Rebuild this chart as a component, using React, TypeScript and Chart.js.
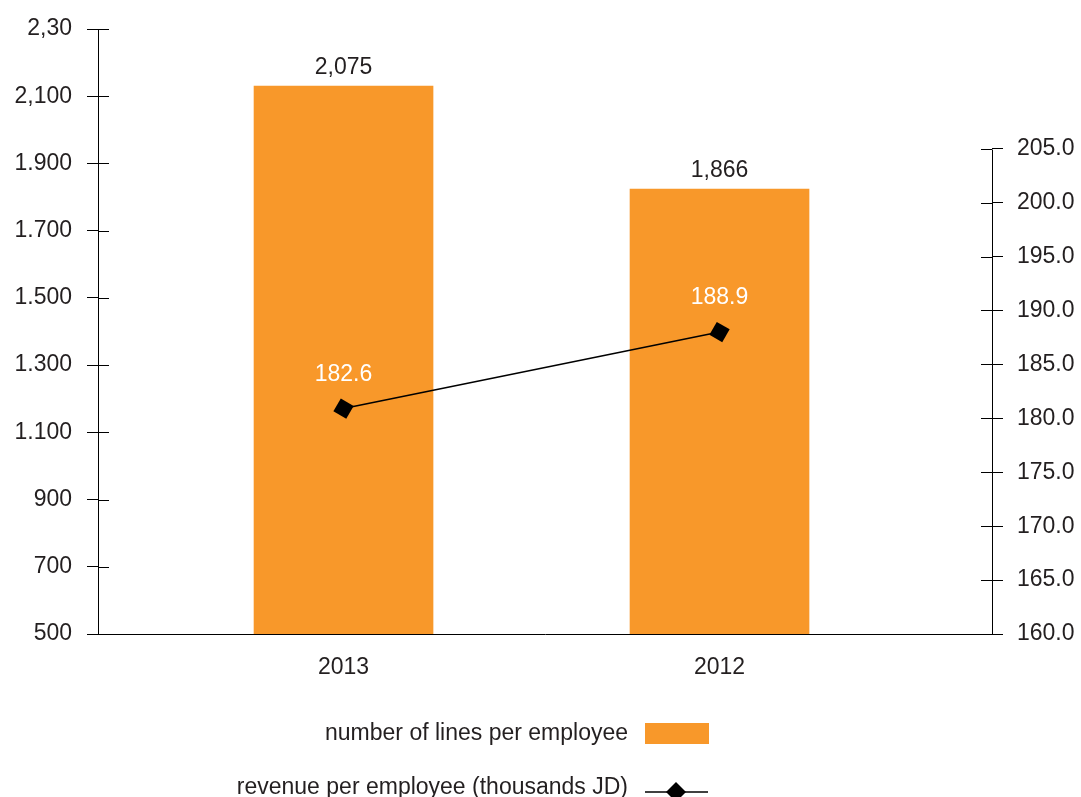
import { useEffect, useRef } from 'react';
import { Chart, registerables } from 'chart.js';

Chart.register(...registerables);

const categories = ['2013', '2012'];
const linesPerEmployee = [2130, 1824];
const linesLabels = ['2,075', '1,866'];
const revenuePerEmployee = [180.9, 188.0];
const revenueLabels = ['182.6', '188.9'];
const leftTickValues = [500, 700, 900, 1100, 1300, 1500, 1700, 1900, 2100, 2300];
const leftTickLabels = ['500', '700', '900', '1.100', '1.300', '1.500', '1.700', '1.900', '2,100', '2,30'];
const rightTickValues = [160, 165, 170, 175, 180, 185, 190, 195, 200, 205];
const rightTickLabels = ['160.0', '165.0', '170.0', '175.0', '180.0', '185.0', '190.0', '195.0', '200.0', '205.0'];
const seriesNames = ['number of lines per employee', 'revenue per employee (thousands JD)'];

const ORANGE = '#F8982A';
const TEXT = '#231F20';
const FONT_FAMILY = '"Liberation Sans", Arial, sans-serif';
const FONT = { family: FONT_FAMILY, size: 23 };

const overlayPlugin = {
  id: 'overlay',
  afterDatasetsDraw(chart: any) {
    const { ctx, chartArea } = chart;
    const y = chart.scales.y;
    const y1 = chart.scales.y1;
    ctx.save();
    ctx.strokeStyle = '#000';
    ctx.lineWidth = 1;
    y.ticks.forEach((t: any) => {
      const py = Math.round(y.getPixelForValue(t.value)) + 0.5;
      ctx.beginPath();
      ctx.moveTo(chartArea.left, py);
      ctx.lineTo(chartArea.left + 11, py);
      ctx.stroke();
    });
    const topPx = y1.getPixelForValue(rightTickValues[rightTickValues.length - 1]);
    const rx = Math.round(chartArea.right) + 0.5;
    ctx.beginPath();
    ctx.moveTo(rx, Math.round(topPx) + 0.5);
    ctx.lineTo(rx, chartArea.bottom);
    ctx.stroke();
    y1.ticks.forEach((t: any) => {
      const py = Math.round(y1.getPixelForValue(t.value)) + 0.5;
      ctx.beginPath();
      ctx.moveTo(chartArea.right - 11, py);
      ctx.lineTo(chartArea.right, py);
      ctx.stroke();
    });

    ctx.font = `23px ${FONT_FAMILY}`;
    ctx.textAlign = 'center';
    ctx.textBaseline = 'middle';
    const barMeta = chart.getDatasetMeta(0);
    barMeta.data.forEach((el: any, i: number) => {
      ctx.fillStyle = TEXT;
      ctx.fillText(linesLabels[i], el.x, el.y - 18);
    });
    const lineMeta = chart.getDatasetMeta(1);
    lineMeta.data.forEach((el: any, i: number) => {
      ctx.fillStyle = '#FFFFFF';
      ctx.fillText(revenueLabels[i], el.x, el.y - 34);
    });
    ctx.restore();
  },
  afterDraw(chart: any) {
    const { ctx } = chart;
    ctx.save();
    ctx.font = `23px ${FONT_FAMILY}`;
    ctx.textAlign = 'right';
    ctx.textBaseline = 'middle';
    ctx.fillStyle = TEXT;
    ctx.fillText(seriesNames[0], 628, 734);
    ctx.fillStyle = ORANGE;
    ctx.fillRect(645, 723, 64, 21);
    ctx.fillStyle = TEXT;
    ctx.fillText(seriesNames[1], 628, 788);
    ctx.strokeStyle = '#000';
    ctx.lineWidth = 1.5;
    ctx.beginPath();
    ctx.moveTo(645, 792);
    ctx.lineTo(708, 792);
    ctx.stroke();
    ctx.fillStyle = '#000';
    ctx.beginPath();
    ctx.moveTo(676, 782);
    ctx.lineTo(686, 792);
    ctx.lineTo(676, 802);
    ctx.lineTo(666, 792);
    ctx.closePath();
    ctx.fill();
    ctx.restore();
  },
};

export default function App() {
  const canvasRef = useRef<HTMLCanvasElement | null>(null);

  useEffect(() => {
    document.body.style.margin = '0';
    const canvas = canvasRef.current;
    if (!canvas) return;
    const chart = new Chart(canvas, {
      type: 'bar',
      data: {
        datasets: [
          {
            type: 'bar',
            label: seriesNames[0],
            data: categories.map((_, i) => ({ x: i, y: linesPerEmployee[i] })),
            backgroundColor: ORANGE,
            barThickness: 179,
            yAxisID: 'y',
            order: 2,
          } as any,
          {
            type: 'line',
            label: seriesNames[1],
            data: categories.map((_, i) => ({ x: i, y: revenuePerEmployee[i] })),
            borderColor: '#000',
            borderWidth: 1.5,
            pointStyle: 'rect',
            pointRotation: 30,
            pointRadius: 10.5,
            pointBackgroundColor: '#000',
            pointBorderColor: '#000',
            pointBorderWidth: 0,
            yAxisID: 'y1',
            order: 1,
          } as any,
        ],
      },
      options: {
        animation: false,
        responsive: false,
        maintainAspectRatio: false,
        layout: { padding: { top: 29, bottom: 113, left: 0, right: 0 } },
        plugins: { legend: { display: false }, tooltip: { enabled: false } },
        scales: {
          x: {
            type: 'linear',
            offset: false,
            min: -0.653,
            max: 1.7247,
            afterBuildTicks: (s: any) => {
              s.ticks = categories.map((_, i) => ({ value: i }));
            },
            afterFit: (s: any) => {
              s.height = 50;
            },
            ticks: {
              callback: (v: any) => categories[v] ?? '',
              font: FONT,
              color: TEXT,
              padding: 20,
              autoSkip: false,
              maxRotation: 0,
            },
            grid: { display: false, drawTicks: false, offset: false },
            border: { display: true, color: '#000', width: 1 },
          },
          y: {
            type: 'linear',
            position: 'left',
            min: 500,
            max: 2300,
            afterBuildTicks: (s: any) => {
              s.ticks = leftTickValues.map((v) => ({ value: v }));
            },
            afterFit: (s: any) => {
              s.width = 98;
            },
            ticks: {
              callback: (v: any) => leftTickLabels[leftTickValues.indexOf(v)],
              font: FONT,
              color: TEXT,
              padding: 15,
            },
            grid: { drawOnChartArea: false, tickLength: 11, color: '#000', lineWidth: 1 },
            border: { display: true, color: '#000', width: 1 },
          },
          y1: {
            type: 'linear',
            position: 'right',
            min: 160,
            max: 216.1,
            afterBuildTicks: (s: any) => {
              s.ticks = rightTickValues.map((v) => ({ value: v }));
            },
            afterFit: (s: any) => {
              s.width = 89;
            },
            ticks: {
              callback: (v: any) => rightTickLabels[rightTickValues.indexOf(v)],
              font: FONT,
              color: TEXT,
              padding: 14,
            },
            grid: { drawOnChartArea: false, tickLength: 11, color: '#000', lineWidth: 1 },
            border: { display: false },
          },
        },
      } as any,
      plugins: [overlayPlugin],
    });
    return () => chart.destroy();
  }, []);

  return <canvas ref={canvasRef} width={1081} height={797} style={{ display: 'block' }} />;
}
